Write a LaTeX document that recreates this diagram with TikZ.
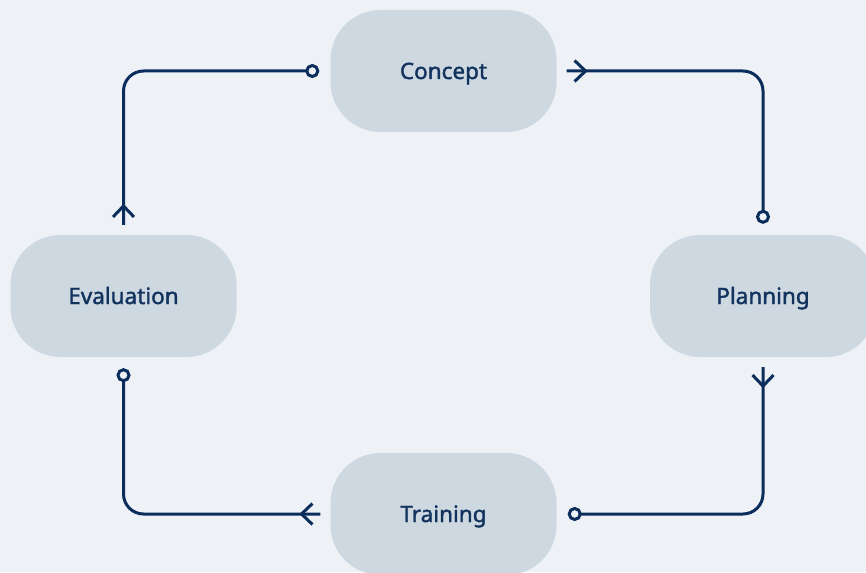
\documentclass[tikz,border=0pt]{standalone}
\usepackage{fontspec}
\setmainfont{Noto Sans}
\newfontfamily\stagefont{Noto Sans}[FakeBold=1.6]
\usetikzlibrary{arrows.meta,decorations.markings}
\definecolor{bgc}{HTML}{EEF2F6}
\definecolor{nodefill}{HTML}{CED8E0}
\definecolor{navy}{HTML}{0B2D5B}
\definecolor{txt}{HTML}{12335E}
\tikzset{
  stage/.style={fill=nodefill, rounded corners=50pt, minimum width=226pt, minimum height=122pt,
    inner sep=0pt, text=txt, text height=16pt, text depth=0pt,
    font=\stagefont\fontsize{22.5pt}{26pt}\selectfont},
  flow/.style={draw=navy, line width=3pt, rounded corners=20pt,
    -{Circle[open,length=14pt,width=14pt]},
    postaction={decorate},
    decoration={markings, mark=at position 21pt with {\arrow[line width=3pt]{Straight Barb[length=11pt,width=21pt]}}}}
}
\begin{document}
\begin{tikzpicture}[x=1pt,y=1pt]
\fill[bgc] (0,0) rectangle (866,-572);
\useasboundingbox (0,0) rectangle (866,-572);
\node[stage] (C) at (443.5,-71) {Concept};
\node[stage] (P) at (763,-296) {Planning};
\node[stage] (T) at (443.5,-514) {Training};
\node[stage] (E) at (123.5,-296) {Evaluation};
\draw[flow] ([xshift=10pt]C.east) -| ([yshift=11pt]P.north);
\draw[flow] ([yshift=-10pt]P.south) |- ([xshift=11pt]T.east);
\draw[flow] ([xshift=-10pt]T.west) -| ([yshift=-11pt]E.south);
\draw[flow] ([yshift=10pt]E.north) |- ([xshift=-11pt]C.west);
\end{tikzpicture}
\end{document}
